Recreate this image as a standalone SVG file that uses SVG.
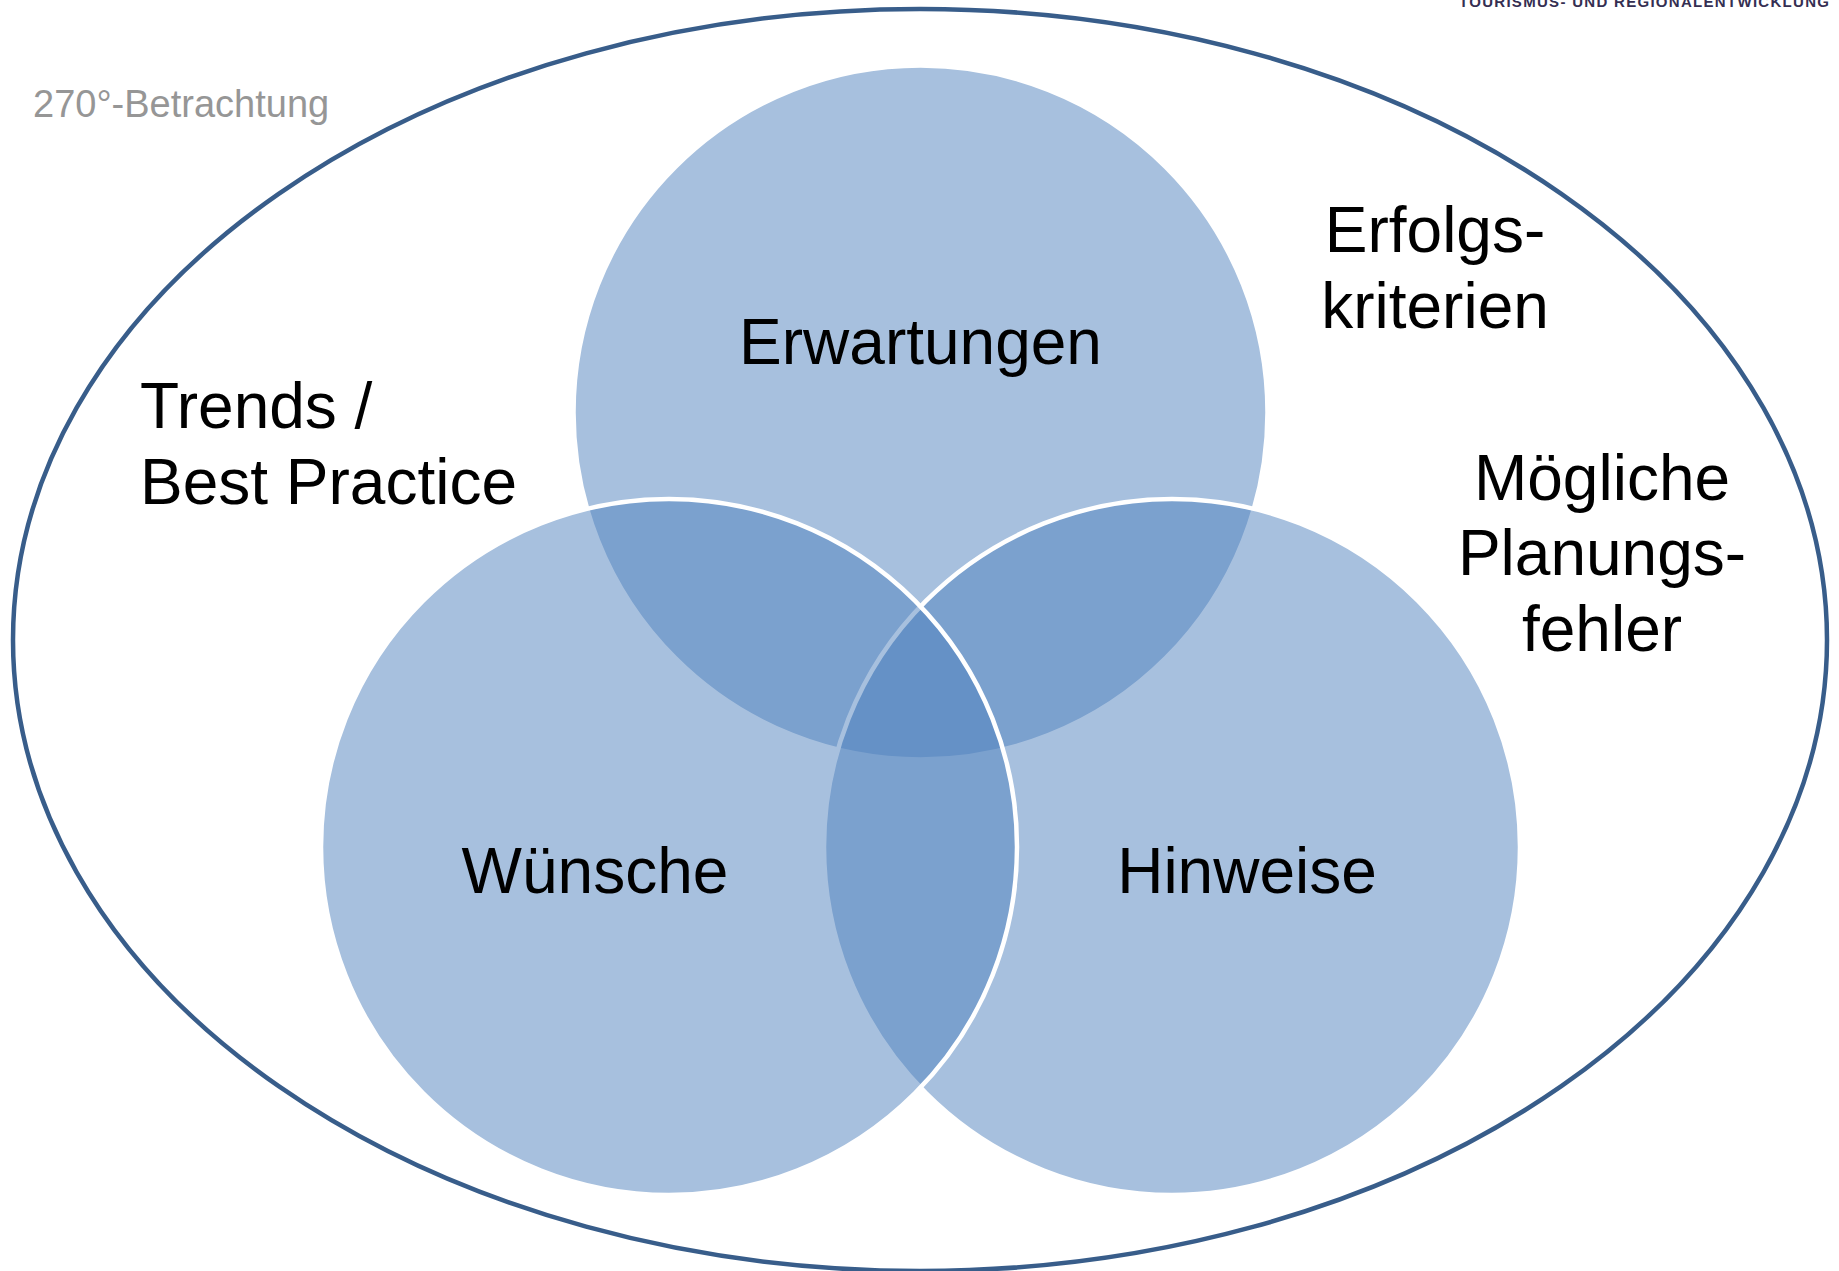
<svg xmlns="http://www.w3.org/2000/svg" width="1839" height="1271" viewBox="0 0 1839 1271">
<style>
.lbl{font-family:"Liberation Sans",Arial,sans-serif;font-size:64px;fill:#000}
.c{fill:#4F81BD;fill-opacity:0.5;stroke:#fff;stroke-width:4.5}
.mid{text-anchor:middle}
</style>
<rect width="1839" height="1271" fill="#fff"/>
<text x="1459" y="7" font-family="'Liberation Sans',Arial,sans-serif" font-size="15" font-weight="bold" fill="#352f52" textLength="370" lengthAdjust="spacing">TOURISMUS- UND REGIONALENTWICKLUNG</text>
<g id="outer">
<ellipse cx="920" cy="640" rx="907" ry="631" fill="none" stroke="#385D8A" stroke-width="4.5"/>
</g>
<g id="title">
<text x="33" y="117" font-family="'Liberation Sans',Arial,sans-serif" font-size="38" fill="#969696">270°-Betrachtung</text>
</g>
<g id="erwartungen">
<circle class="c" cx="920.5" cy="412.5" r="347"/>
</g>
<g id="hinweise">
<circle class="c" cx="1172" cy="847" r="348"/>
</g>
<g id="wuensche">
<circle class="c" cx="669" cy="847" r="348"/>
</g>
<g id="labels">
<text class="lbl mid" x="920.5" y="364">Erwartungen</text>
<text class="lbl mid" x="595" y="893">Wünsche</text>
<text class="lbl mid" x="1247" y="893">Hinweise</text>
</g>
<g id="trends">
<text class="lbl" x="140" y="428">Trends /</text>
<text class="lbl" x="140" y="504">Best Practice</text>
</g>
<g id="erfolgskriterien">
<text class="lbl mid" x="1435" y="252">Erfolgs-</text>
<text class="lbl mid" x="1435" y="328">kriterien</text>
</g>
<g id="planungsfehler">
<text class="lbl mid" x="1602" y="500">Mögliche</text>
<text class="lbl mid" x="1602" y="575">Planungs-</text>
<text class="lbl mid" x="1602" y="651">fehler</text>
</g>
<g id="connectors"></g>
</svg>
